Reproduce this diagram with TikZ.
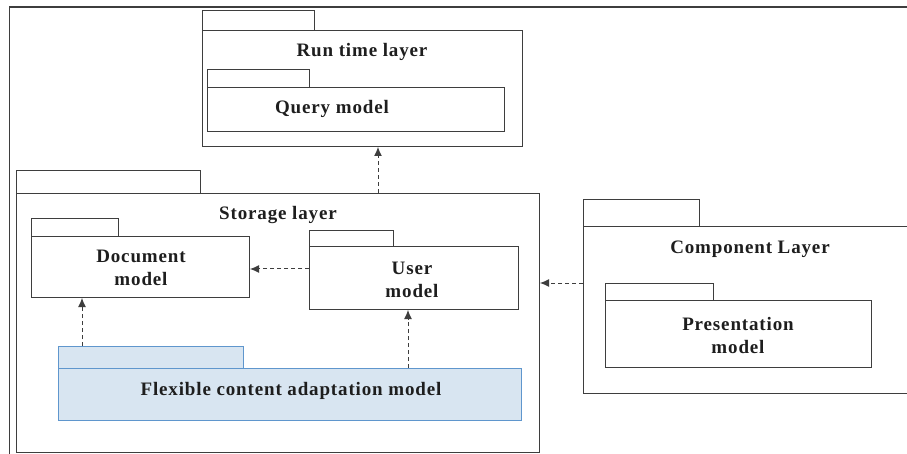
\documentclass[tikz,border=0pt]{standalone}
\usepackage{fontspec}
\setmainfont{Liberation Serif}
\newfontfamily\lblfont[LetterSpace=4.5]{Liberation Serif}
\usetikzlibrary{arrows.meta}
\definecolor{edge}{RGB}{62,62,62}
\definecolor{ink}{RGB}{30,30,30}
\definecolor{bluefill}{RGB}{216,229,241}
\definecolor{blueedge}{RGB}{95,150,205}
\tikzset{
  pkgtab/.style={draw=edge, line width=1pt, rectangle, inner sep=0pt, anchor=north west, fill=white},
  pkgbody/.style={draw=edge, line width=1pt, rectangle, inner sep=0pt, anchor=north west, fill=white},
  bluepkg/.style={draw=blueedge, fill=bluefill},
  lbl/.style={text=ink, font=\lblfont\fontsize{19}{23}\selectfont\bfseries, align=center, inner sep=0pt},
  dep/.style={draw=edge, line width=1pt, dash pattern=on 4pt off 3pt, -{Latex[length=9pt,width=8pt]}},
  frame/.style={draw=edge, line width=1.8pt}
}
\begin{document}
\begin{tikzpicture}[x=1pt,y=-1pt]
\useasboundingbox (0,0) rectangle (907,454);
% frame
\coordinate (fbl) at (9.5,454);
\coordinate (ftl) at (9.5,7);
\coordinate (ftr) at (907,7);
\draw[frame] (fbl) -- (ftl) -- (ftr);

% Run time layer
\node[pkgtab, minimum width=112pt, minimum height=20pt] (rt-tab) at (202,10) {};
\node[pkgbody, minimum width=320pt, minimum height=116pt] (rt) at (202,30) {};
\node[lbl] (rt-t) at (362,51.5) {Run time layer};
\node[pkgtab, minimum width=102pt, minimum height=18pt] (qm-tab) at (207,69) {};
\node[pkgbody, minimum width=297pt, minimum height=44pt] (qm) at (207,87) {};
\node[lbl] (qm-t) at (332,108.5) {Query model};

% Storage layer
\node[pkgtab, minimum width=184pt, minimum height=23pt] (st-tab) at (16,170) {};
\node[pkgbody, minimum width=523pt, minimum height=259pt] (st) at (16,193) {};
\node[lbl] (st-t) at (278,215.5) {Storage layer};

\node[pkgtab, minimum width=87pt, minimum height=18pt] (dm-tab) at (31,218) {};
\node[pkgbody, minimum width=218pt, minimum height=61pt] (dm) at (31,236) {};
\node[lbl] (dm-t) at (141,268) {Document\\model};

\node[pkgtab, minimum width=84pt, minimum height=16pt] (um-tab) at (309,230) {};
\node[pkgbody, minimum width=209pt, minimum height=63pt] (um) at (309,246) {};
\node[lbl] (um-t) at (412,279.5) {User\\model};

\node[pkgtab, bluepkg, minimum width=185pt, minimum height=22pt] (fc-tab) at (58,346) {};
\node[pkgbody, bluepkg, minimum width=463pt, minimum height=52pt] (fc) at (58,368) {};
\node[lbl] (fc-t) at (291,390.5) {Flexible content adaptation model};

% Component layer
\node[pkgtab, minimum width=116pt, minimum height=28pt] (cl-tab) at (583,199) {};
\node[pkgbody, draw=none, minimum width=324pt, minimum height=165pt] (cl) at (583,227) {};
\draw[draw=edge, line width=1pt] (cl.north east) -- (cl.north west) -- (cl.south west) -- (cl.south east);
\node[lbl] (cl-t) at (750,249.5) {Component Layer};
\node[pkgtab, minimum width=108pt, minimum height=17pt] (pm-tab) at (605,283) {};
\node[pkgbody, minimum width=266pt, minimum height=67pt] (pm) at (605,300) {};
\node[lbl] (pm-t) at (738,335) {Presentation\\model};

% dependencies
\draw[dep] (st.north -| 378,0) -- (rt.south -| 378,0);
\draw[dep] (um.west |- 0,269) -- (dm.east |- 0,269);
\draw[dep] (fc-tab.north -| 82,0) -- (dm.south -| 82,0);
\draw[dep] (fc.north -| 408,0) -- (um.south -| 408,0);
\draw[dep] (cl.west |- 0,283) -- (st.east |- 0,283);
\end{tikzpicture}
\end{document}
